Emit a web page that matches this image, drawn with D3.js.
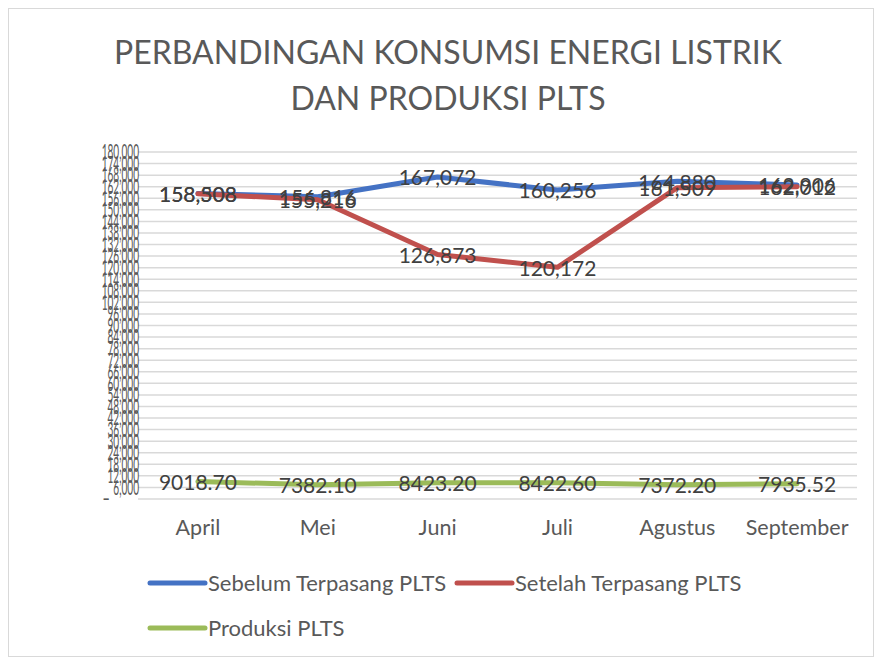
<!DOCTYPE html>
<html><head><meta charset="utf-8">
<script src="https://cdn.jsdelivr.net/npm/d3@7"></script>
<style>body{margin:0;background:#fff}svg{display:block}text{font-family:Lato,"Open Sans",sans-serif;fill:#404040}</style>
</head><body>
<script>
const categories = ["April","Mei","Juni","Juli","Agustus","September"];
const sebelum = [158508,156816,167072,160256,164880,162906];
const setelah = [158308,155216,126873,120172,161509,162012];
const produksi = [9018.70,7382.10,8423.20,8422.60,7372.20,7935.52];
const yTicks = d3.range(0,180001,6000);
const seriesNames = ["Sebelum Terpasang PLTS","Setelah Terpasang PLTS","Produksi PLTS"];
const colors = ["#4472C4","#C0504D","#9BBB59"];

const W=874,H=657;
const svg=d3.select("body").append("svg").attr("width",W).attr("height",H);
svg.append("rect").attr("x",8.5).attr("y",8.5).attr("width",W-9).attr("height",H-9).attr("fill","#fff").attr("stroke","#D9D9D9");

svg.append("text").attr("x",448).attr("y",64).attr("text-anchor","middle").style("font-size","32px").style("fill","#595959").text("PERBANDINGAN KONSUMSI ENERGI LISTRIK");
svg.append("text").attr("x",448).attr("y",110).attr("text-anchor","middle").style("font-size","32px").style("fill","#595959").text("DAN PRODUKSI PLTS");

const x=d3.scaleBand().domain(categories).range([138,857]);
const y=d3.scaleLinear().domain([0,180000]).range([499,152]);
const cx=d=>x(d)+x.bandwidth()/2;

const g=svg.append("g");
g.selectAll("line.grid").data(yTicks).join("line").attr("class","grid")
 .attr("x1",138).attr("x2",857).attr("y1",d=>y(d)).attr("y2",d=>y(d))
 .attr("stroke","#D9D9D9").attr("stroke-width",1.5);

// y tick labels, horizontally compressed as in the reference
const yl=svg.append("g").selectAll("text").data(yTicks.filter(d=>d>0)).join("text")
 .attr("transform",d=>`translate(139,${y(d)}) scale(0.48,1)`)
 .attr("dy","0.35em").attr("text-anchor","end")
 .style("font-size","21px").style("fill","#595959").text(d=>d3.format(",")(d));
svg.append("text").attr("x",110).attr("y",y(0)).attr("dy","0.35em").attr("text-anchor","end").style("font-size","21px").style("fill","#595959").text("-");

const xAxis=d3.axisBottom(x).tickSize(0).tickPadding(0);
const xa=svg.append("g").attr("transform","translate(0,520)").call(xAxis);
xa.select(".domain").remove();
xa.selectAll("text").style("font-size","21.5px").style("fill","#595959").style("font-family","Lato");

const allSeries=[sebelum,setelah,produksi];
const line=d3.line().x((d,i)=>cx(categories[i])).y(d=>y(d));
allSeries.forEach((s,k)=>{
  svg.append("path").attr("d",line(s)).attr("fill","none").attr("stroke",colors[k]).attr("stroke-width",5).attr("stroke-linecap","round").attr("stroke-linejoin","round");
});
const fmts=[d3.format(","),d3.format(","),d3.format(".2f")];
allSeries.forEach((s,k)=>{
  svg.append("g").selectAll("text").data(s).join("text")
   .attr("x",(d,i)=>cx(categories[i])).attr("y",d=>y(d)).attr("dy","0.4em").attr("text-anchor","middle")
   .style("font-size","21px").style("fill","#404040").text(d=>fmts[k](d));
});

// legend
const leg=[{x:148,y:583},{x:455,y:583},{x:148,y:628}];
leg.forEach((p,k)=>{
  svg.append("line").attr("x1",p.x+2).attr("x2",p.x+57).attr("y1",p.y).attr("y2",p.y).attr("stroke",colors[k]).attr("stroke-width",5).attr("stroke-linecap","round");
  svg.append("text").attr("x",p.x+60).attr("y",p.y).attr("dy","0.35em").style("font-size","22px").style("fill","#595959").text(seriesNames[k]);
});
</script>
</body></html>
